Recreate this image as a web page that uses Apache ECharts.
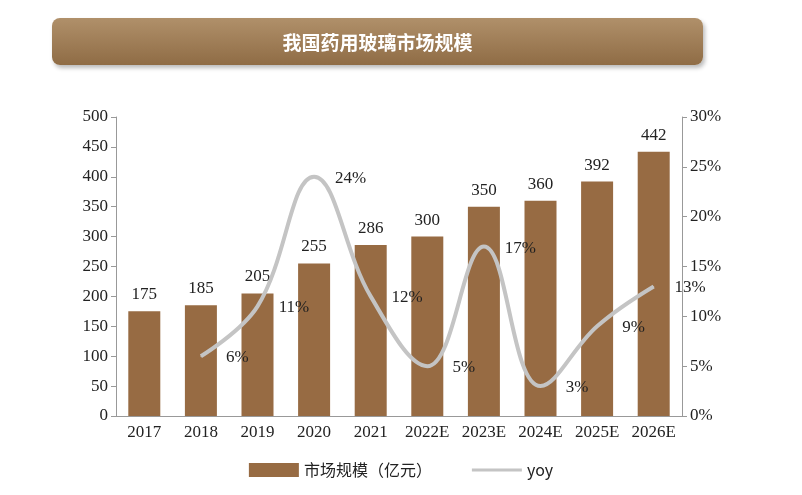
<!DOCTYPE html><html><head><meta charset="utf-8"><script src="https://cdn.jsdelivr.net/npm/echarts@6/dist/echarts.min.js"></script>
<style>body{margin:0;background:#fff}#t{position:absolute;left:52px;top:18px;width:651px;height:47px;border-radius:8px;background:linear-gradient(#b0906a,#8f6c45);box-shadow:2px 3px 4px #bbb;color:#fff;font:bold 19px "Noto Sans CJK SC";text-align:center;line-height:47px}#c{position:absolute;left:0;top:0;width:802px;height:495px}</style></head><body>
<div id="c"></div><div id="t">我国药用玻璃市场规模</div>
<script>
const categories=['2017','2018','2019','2020','2021','2022E','2023E','2024E','2025E','2026E'];
const marketSize=[175,185,205,255,286,300,350,360,392,442];
const yoy=[null,6,11,24,12,5,17,3,9,13];
const f='Liberation Serif';
const ch=echarts.init(document.getElementById('c'));
ch.setOption({
grid:{left:116,right:120,top:117,bottom:79},
legend:{bottom:12,left:'center',itemGap:40,textStyle:{fontFamily:'Noto Sans CJK SC',fontSize:16,color:'#222'},data:[{name:'市场规模（亿元）',icon:'rect',itemStyle:{color:'#976b43'}},{name:'yoy',icon:'path://M0,0H0.1V0.1H0ZM0,5.5H50V8.5H0ZM0,13.9H0.1V14H0Z'}],itemWidth:50,itemHeight:14},
xAxis:{type:'category',data:categories,axisTick:{show:false},axisLine:{lineStyle:{color:'#999'}},axisLabel:{fontFamily:f,fontSize:17,color:'#222',interval:0}},
yAxis:[{type:'value',min:0,max:500,interval:50,splitLine:{show:false},axisLine:{show:true,lineStyle:{color:'#999'}},axisTick:{show:true},axisLabel:{fontFamily:f,fontSize:17,color:'#222'}},
{type:'value',min:0,max:30,interval:5,splitLine:{show:false},axisLine:{show:true,lineStyle:{color:'#999'}},axisTick:{show:true},axisLabel:{fontFamily:f,fontSize:17,color:'#222',formatter:'{value}%'}}],
series:[{name:'市场规模（亿元）',type:'bar',data:marketSize,barWidth:32,itemStyle:{color:'#976b43'},label:{show:true,position:'top',distance:8,fontFamily:f,fontSize:17,color:'#222'}},
{name:'yoy',type:'line',yAxisIndex:1,data:yoy,smooth:0.4,symbol:'circle',symbolSize:1,showSymbol:true,lineStyle:{color:'#c4c4c4',width:4},itemStyle:{color:'#c4c4c4'},labelLayout:{hideOverlap:false},
label:{show:true,position:[37,2],align:'center',verticalAlign:'middle',formatter:p=>p.value+'%',fontFamily:f,fontSize:17,color:'#222'}}]
});
</script></body></html>
